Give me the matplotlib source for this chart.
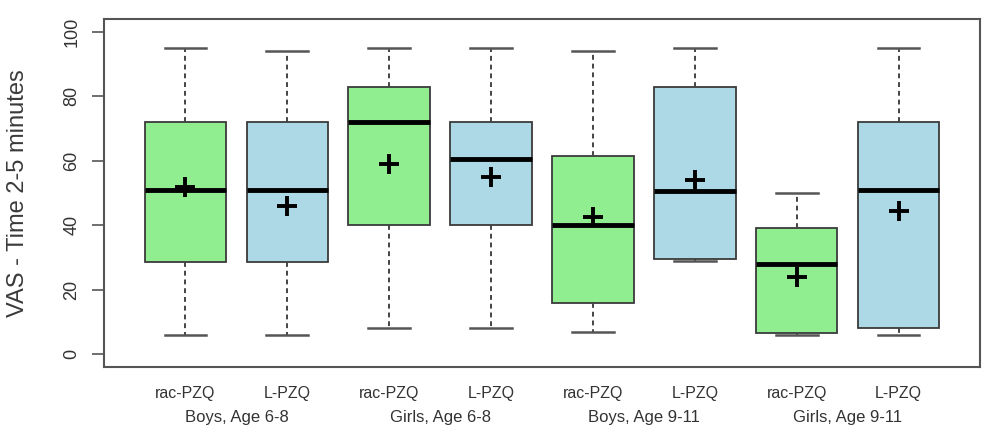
import matplotlib
matplotlib.use("Agg")
import matplotlib.pyplot as plt

plt.rcParams['font.family'] = ['Liberation Sans', 'DejaVu Sans']

# values (VAS score, time 2-5 minutes)
treatments = ["rac-PZQ", "L-PZQ", "rac-PZQ", "L-PZQ",
              "rac-PZQ", "L-PZQ", "rac-PZQ", "L-PZQ"]
groups = ["Boys, Age 6-8", "Girls, Age 6-8", "Boys, Age 9-11", "Girls, Age 9-11"]
whis_hi = [95, 94, 95, 95, 94, 95, 50, 95]
q3 = [72, 72, 83, 72, 61.5, 83, 39, 72]
median = [51, 51, 72, 60.5, 40, 50.5, 28, 51]
mean = [52, 46, 59, 55, 42.5, 54, 24, 44.5]
q1 = [28.5, 28.5, 40, 40, 16, 29.5, 6.5, 8]
whis_lo = [6, 6, 8, 8, 7, 29, 6, 6]
box_colors = ["#90ee90", "#add8e6"] * 4

stats = []
for i in range(len(treatments)):
    stats.append(dict(label=treatments[i], whislo=whis_lo[i], q1=q1[i], med=median[i],
                      q3=q3[i], whishi=whis_hi[i], mean=mean[i], fliers=[]))

positions = list(range(1, len(stats) + 1))

fig = plt.figure(figsize=(9.83, 4.28), dpi=100)
ax = fig.add_axes([104 / 983, 61 / 428, 876 / 983, 348 / 428])

edge = "#3a3a3a"
bp = ax.bxp(stats, positions=positions, widths=0.8, capwidths=0.41,
            patch_artist=True, showmeans=True, showfliers=False,
            boxprops=dict(edgecolor=edge, linewidth=1.3),
            medianprops=dict(color="black", linewidth=3.5, solid_capstyle="butt"),
            whiskerprops=dict(color="#444444", linewidth=1.4, linestyle=(0, (2.5, 2))),
            capprops=dict(color="#555555", linewidth=1.8),
            meanprops=dict(marker="+", markersize=15, markeredgewidth=2.8,
                           markeredgecolor="black"))
for patch, c in zip(bp["boxes"], box_colors):
    patch.set_facecolor(c)

ax.set_xlim(0.2, 8.8)
ax.set_ylim(-4, 104)
ax.set_yticks([0, 20, 40, 60, 80, 100])
ax.tick_params(axis="y", length=9, width=1.2, color="#555555", pad=8,
               labelsize=13, labelcolor="#333333", labelrotation=90)
for lab in ax.get_yticklabels():
    lab.set_verticalalignment("center")
ax.tick_params(axis="x", length=0, pad=14, labelsize=11.5, labelcolor="#333333")

for s in ax.spines.values():
    s.set_color("#555555")
    s.set_linewidth(1.5)

ax.set_ylabel("VAS - Time 2-5 minutes", fontsize=17, color="#3a3a3a")
ax.yaxis.set_label_coords(-0.086, 0.5)

for k, g in enumerate(groups):
    xc = (positions[2 * k] + positions[2 * k + 1]) / 2
    ax.text(xc, -0.145, g, transform=ax.get_xaxis_transform(), ha="center",
            va="center", fontsize=12, color="#333333")

fig.savefig("out.png", dpi=100)
